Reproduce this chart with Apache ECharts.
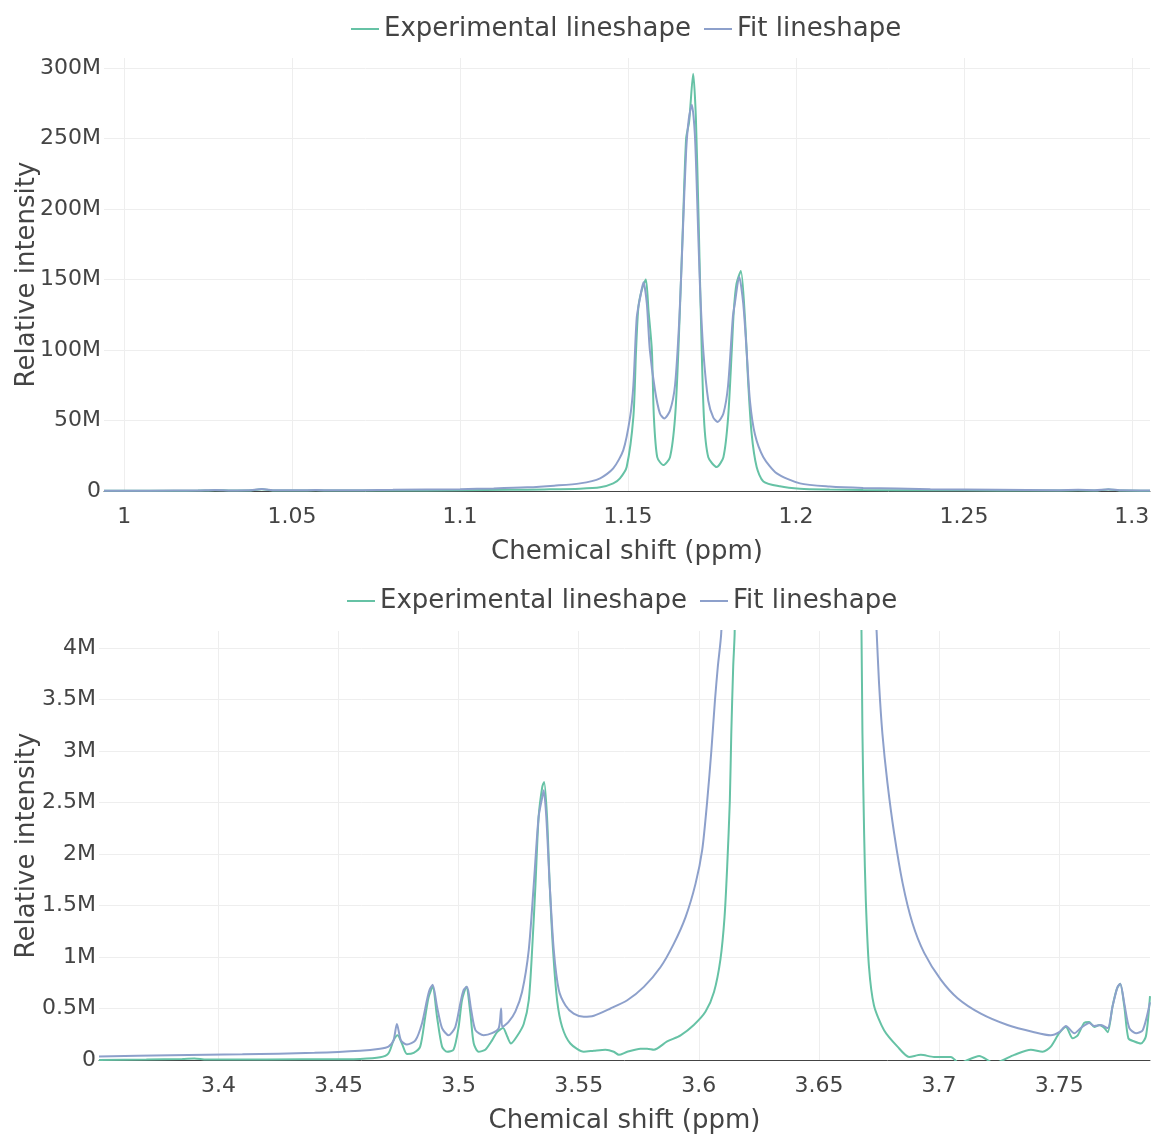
<!DOCTYPE html>
<html><head><meta charset="utf-8">
<script src="https://cdn.jsdelivr.net/npm/echarts@6/dist/echarts.min.js"></script>
<style>html,body{margin:0;padding:0;background:#fff}#c{width:1152px;height:1138px}</style>
</head><body><div id="c"></div>
<script>
// ---- texts ----
const legendNames = ['Experimental lineshape', 'Fit lineshape'];
const xTitle = 'Chemical shift (ppm)';
const yTitle = 'Relative intensity';

// ---- top panel (intensity in millions) ----
const topExpPpm = [0.994,1.000,1.015,1.022,1.027,1.032,1.037,1.041,1.045,1.052,1.057,1.062,1.080,1.100,1.115,1.125,1.1357,1.1417,1.1456,1.1476,1.1496,1.1516,1.1524,1.1531,1.1541,1.1553,1.1561,1.1571,1.1577,1.1587,1.1605,1.1625,1.1640,1.1650,1.1663,1.1673,1.1682,1.1694,1.1702,1.1710,1.1717,1.1726,1.1739,1.1764,1.1784,1.1798,1.1809,1.1815,1.1823,1.1836,1.1848,1.1858,1.1868,1.1883,1.1903,1.1952,1.2012,1.210,1.220,1.240,1.260,1.278,1.284,1.289,1.293,1.297,1.3054];
const topExpVal = [0.2,0.2,0.2,0.3,0.6,0.3,0.4,1.2,0.3,0.3,0.5,0.3,0.4,0.5,0.8,1.1,1.6,2.6,5.4,9,17,52.7,100,130.7,142.5,150,128,100,52.7,24,18.4,24,52,100,185,250,262,296,265,194,123,52,24,17,24,52,100,128,147,156,123,76,40.7,17,6.8,3.3,1.6,1.0,0.7,0.5,0.4,0.3,0.5,0.3,1.1,0.3,0.2];
const topFitPpm = [0.994,1.000,1.015,1.022,1.027,1.032,1.037,1.041,1.045,1.052,1.057,1.062,1.080,1.100,1.110,1.120,1.128,1.1357,1.1417,1.1456,1.1486,1.1506,1.1516,1.1526,1.1536,1.1546,1.1556,1.1565,1.1580,1.1595,1.1608,1.1625,1.1640,1.1653,1.1663,1.1673,1.1681,1.1690,1.1699,1.1706,1.1714,1.1724,1.1739,1.1754,1.1767,1.1784,1.1798,1.1812,1.1818,1.1831,1.1843,1.1853,1.1863,1.1878,1.1903,1.1943,1.2012,1.210,1.220,1.240,1.260,1.278,1.284,1.289,1.293,1.297,1.3054];
const topFitVal = [0.2,0.2,0.3,0.4,0.7,0.4,0.5,1.4,0.5,0.5,0.7,0.5,0.8,1.3,1.8,2.6,3.8,5.4,9,16,29,52,75,123,137,148,133,100,72,55,51.5,57,75,123,182,241,264,274,253,206,147,100,64,52,49,55,75,123,133,152,133,100,64,40,24,12.5,5.4,3.2,2.2,1.3,0.9,0.6,0.8,0.6,1.3,0.5,0.4];

// ---- bottom panel (intensity in millions) ----
const botExpPpm = [3.3503,3.37,3.385,3.39,3.395,3.42,3.45,3.459,3.4673,3.4708,3.4729,3.4746,3.4764,3.4785,3.4813,3.4840,3.4861,3.4875,3.4892,3.4910,3.4931,3.4952,3.4979,3.5000,3.5014,3.5032,3.5049,3.5063,3.5083,3.5111,3.5139,3.5160,3.5185,3.5202,3.5218,3.5243,3.5271,3.5292,3.5306,3.5320,3.5333,3.5348,3.5356,3.5368,3.5379,3.5393,3.5410,3.5431,3.5465,3.5521,3.5563,3.5611,3.5646,3.5667,3.5702,3.5757,3.5785,3.5813,3.5868,3.5924,3.5979,3.6028,3.6063,3.6090,3.6107,3.6118,3.6129,3.6135,3.6143,3.6149,3.616,3.620,3.640,3.660,3.6665,3.6677,3.6681,3.6688,3.6695,3.6708,3.6729,3.6771,3.6827,3.6875,3.6924,3.6979,3.7049,3.7083,3.7167,3.7229,3.7313,3.7382,3.7431,3.7465,3.7500,3.7528,3.7556,3.7577,3.7604,3.7625,3.7646,3.7667,3.7688,3.7702,3.7722,3.7740,3.7754,3.7771,3.7788,3.7813,3.7840,3.7861,3.7878];
const botExpVal = [0.0,0.005,0.01,0.015,0.005,0.005,0.008,0.01,0.026,0.065,0.19,0.24,0.16,0.058,0.07,0.13,0.42,0.61,0.71,0.42,0.13,0.08,0.1,0.32,0.58,0.71,0.45,0.16,0.08,0.1,0.19,0.27,0.31,0.23,0.16,0.23,0.35,0.58,1.07,1.71,2.36,2.65,2.70,2.36,1.71,1.07,0.58,0.32,0.16,0.08,0.09,0.1,0.08,0.05,0.08,0.11,0.11,0.1,0.18,0.24,0.34,0.47,0.66,0.98,1.39,1.88,2.52,3.17,3.82,4.14,6,15,90,18,6,4.16,3.17,2.2,1.55,0.91,0.53,0.29,0.13,0.03,0.05,0.03,0.03,-0.03,0.04,-0.03,0.05,0.1,0.08,0.13,0.26,0.32,0.21,0.24,0.36,0.37,0.32,0.34,0.31,0.27,0.52,0.69,0.74,0.52,0.21,0.18,0.16,0.23,0.62];
const botFitPpm = [3.3503,3.38,3.41,3.44,3.459,3.4673,3.4708,3.4729,3.4743,3.4760,3.4785,3.4820,3.4848,3.4868,3.4879,3.4892,3.4910,3.4931,3.4958,3.4986,3.5007,3.5021,3.5035,3.5052,3.5070,3.5104,3.5139,3.5167,3.5177,3.5182,3.5208,3.5236,3.5264,3.5292,3.5313,3.5333,3.5348,3.5354,3.5365,3.5379,3.5396,3.5417,3.5445,3.5479,3.5521,3.5563,3.5632,3.5702,3.5771,3.5840,3.5896,3.5945,3.5986,3.6014,3.6035,3.6052,3.6067,3.6079,3.6093,3.612,3.620,3.640,3.660,3.670,3.6740,3.6750,3.6764,3.6785,3.6813,3.6848,3.6889,3.6938,3.7007,3.7077,3.7174,3.7285,3.7396,3.7465,3.7500,3.7528,3.7563,3.7590,3.7625,3.7646,3.7674,3.7702,3.7722,3.7743,3.7754,3.7771,3.7792,3.7820,3.7848,3.7878];
const botFitVal = [0.035,0.045,0.055,0.07,0.09,0.11,0.13,0.19,0.35,0.19,0.15,0.19,0.36,0.58,0.68,0.73,0.52,0.31,0.24,0.32,0.55,0.68,0.71,0.49,0.29,0.24,0.26,0.31,0.5,0.32,0.37,0.47,0.66,1.07,1.71,2.36,2.55,2.62,2.36,1.71,1.07,0.68,0.53,0.45,0.42,0.43,0.5,0.58,0.71,0.9,1.13,1.39,1.71,2.04,2.52,3.0,3.49,3.82,4.14,5.5,12,60,14,6,4.16,3.66,3.17,2.69,2.2,1.72,1.33,1.04,0.78,0.6,0.45,0.34,0.27,0.24,0.27,0.33,0.26,0.31,0.36,0.33,0.34,0.31,0.52,0.71,0.74,0.55,0.31,0.26,0.29,0.56];

const FONT = 'DejaVu Sans';
const TXT = '#444';
const GREEN = '#66c2a5';
const BLUE = '#8da0cb';
const zip = (xs, ys) => xs.map((x, i) => [x, ys[i]]);
const mFmt = v => (v === 0 ? '0' : v + 'M');

function xAxisCfg(gridIndex, min, max) {
  return {
    type: 'value', gridIndex, min, max, minInterval: 0.05, maxInterval: 0.05,
    name: xTitle, nameLocation: 'middle', nameGap: 48, nameMoveOverlap: false,
    nameTextStyle: { fontFamily: FONT, fontSize: 26, color: TXT },
    axisLine: { show: true, onZero: true, lineStyle: { color: '#444', width: 1 } },
    axisTick: { show: false },
    axisLabel: { fontFamily: FONT, fontSize: 22, color: TXT, margin: 15, showMinLabel: false, showMaxLabel: false },
    splitLine: { show: true, showMinLine: false, showMaxLine: false, lineStyle: { color: '#eee', width: 1 } }
  };
}
function yAxisCfg(gridIndex, max, interval, gap) {
  return {
    type: 'value', gridIndex, min: 0, max, interval,
    name: yTitle, nameLocation: 'middle', nameGap: gap, nameRotate: 90, nameMoveOverlap: false,
    nameTextStyle: { fontFamily: FONT, fontSize: 26, color: TXT },
    axisLine: { show: false }, axisTick: { show: false },
    axisLabel: { fontFamily: FONT, fontSize: 22, color: TXT, margin: 3, formatter: mFmt, showMaxLabel: false },
    splitLine: { show: true, showMaxLine: false, showMinLine: false, lineStyle: { color: '#eee', width: 1 } }
  };
}
function lineSeries(name, idx, data, color) {
  return {
    name, type: 'line', xAxisIndex: idx, yAxisIndex: idx, data, symbol: 'none',
    smooth: 0.25, clip: true,
    lineStyle: { color, width: 2 }, itemStyle: { color }, animation: false
  };
}
const legendText = { fontFamily: FONT, fontSize: 26, color: TXT };

const chart = echarts.init(document.getElementById('c'), null, { renderer: 'canvas' });
chart.setOption({
  animation: false,
  backgroundColor: '#fff',
  legend: [
    { data: legendNames, left: 346, top: 11, itemWidth: 28, itemHeight: 14, itemGap: 13, textStyle: legendText, icon: 'path://M0,6 L28,6 L28,8 L0,8 Z', selectedMode: false },
    { data: legendNames, left: 342, top: 583, itemWidth: 28, itemHeight: 14, itemGap: 13, textStyle: legendText, icon: 'path://M0,6 L28,6 L28,8 L0,8 Z', selectedMode: false }
  ],
  grid: [
    { left: 104, right: 2, top: 58, height: 433, outerBoundsMode: 'none', containLabel: false },
    { left: 99, right: 2, top: 631, height: 429, outerBoundsMode: 'none', containLabel: false }
  ],
  xAxis: [ xAxisCfg(0, 0.994, 1.3054), xAxisCfg(1, 3.3503, 3.7878) ],
  yAxis: [ yAxisCfg(0, 307.1, 50, 64), yAxisCfg(1, 4.165, 0.5, 59) ],
  series: [
    lineSeries(legendNames[0], 0, zip(topExpPpm, topExpVal), GREEN),
    lineSeries(legendNames[1], 0, zip(topFitPpm, topFitVal), BLUE),
    lineSeries(legendNames[0], 1, zip(botExpPpm, botExpVal), GREEN),
    lineSeries(legendNames[1], 1, zip(botFitPpm, botFitVal), BLUE)
  ]
});
</script></body></html>
